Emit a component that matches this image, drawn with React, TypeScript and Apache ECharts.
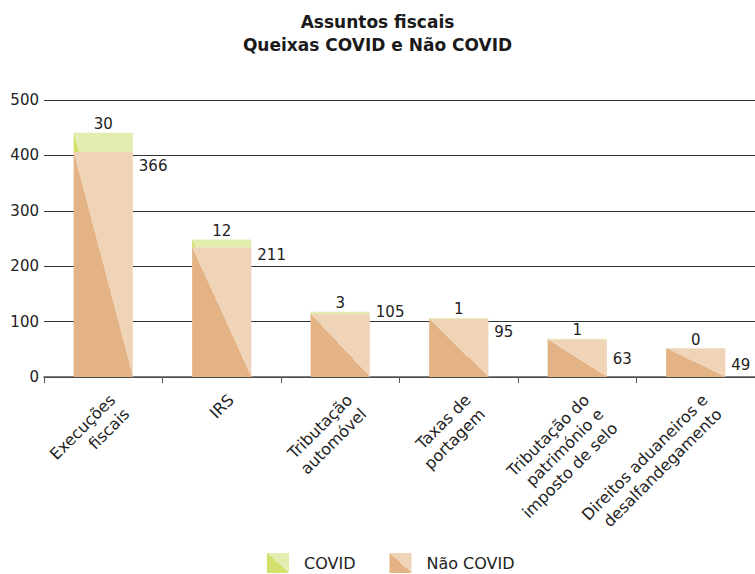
import React, { useEffect, useRef } from "react";
import * as echarts from "echarts";

const categories = [
  "Execuções\nfiscais",
  "IRS",
  "Tributação\nautomóvel",
  "Taxas de\nportagem",
  "Tributação do\npatrimónio e\nimposto de selo",
  "Direitos aduaneiros e\ndesalfandegamento",
];
// bar heights as drawn in the reference
const nonCovidBar = [406, 234, 114, 105, 68, 52];
const covidBar = [35, 14, 3.6, 1.5, 1.2, 0];
// numbers printed on the bars
const nonCovidLabels = [366, 211, 105, 95, 63, 49];
const covidLabels = [30, 12, 3, 1, 1, 0];
const yTicks = [0, 100, 200, 300, 400, 500];

// label placement (style only)
const nonCovidLabelDy = [6, 0, -9, 6, 12, 9];

const FONT = "'DejaVu Sans', sans-serif";
const NC_DARK = "#E3B386";
const NC_LIGHT = "#EFD4B8";
const C_DARK = "#D3E16C";
const C_LIGHT = "#E4EDB0";

function twoTone(dark: string, light: string, k: number) {
  return new echarts.graphic.LinearGradient(-1, k, 1, -k, [
    { offset: 0, color: dark },
    { offset: 0.5, color: dark },
    { offset: 0.5, color: light },
    { offset: 1, color: light },
  ]);
}

export default function App() {
  const ref = useRef<HTMLDivElement>(null);
  useEffect(() => {
    document.body.style.margin = "0";
    const chart = echarts.init(ref.current!, null, { renderer: "svg" });
    chart.setOption({
      animation: false,
      textStyle: { fontFamily: FONT },
      title: {
        text: "Assuntos fiscais\nQueixas COVID e Não COVID",
        left: "center",
        top: 5,
        padding: [5, 0, 5, 8],
        textStyle: {
          fontFamily: FONT,
          fontSize: 17,
          fontWeight: "bold",
          lineHeight: 23,
          color: "#1a1a1a",
        },
      },
      legend: {
        data: ["COVID", "Não COVID"],
        top: 548,
        left: 262,
        icon: "rect",
        itemWidth: 22,
        itemHeight: 20,
        itemGap: 34,
        textStyle: { fontFamily: FONT, fontSize: 16, color: "#222", padding: [0, 0, 0, 10] },
      },
      grid: { left: 44, right: 0, top: 100, bottom: 197 },
      xAxis: {
        type: "category",
        data: categories,
        axisLine: { lineStyle: { color: "#555", width: 1.5 } },
        axisTick: { show: true, length: 6, lineStyle: { color: "#555" } },
        axisLabel: {
          rotate: 45,
          interval: 0,
          fontFamily: FONT,
          fontSize: 16,
          color: "#222",
          lineHeight: 20,
          verticalAlign: "top",
          padding: [3, 0, 0, 0],
          margin: 11,
        },
      },
      yAxis: {
        type: "value",
        min: yTicks[0],
        max: yTicks[yTicks.length - 1],
        interval: 100,
        axisLine: { show: false },
        axisTick: { show: false },
        axisLabel: { fontFamily: FONT, fontSize: 15, color: "#222", margin: 5 },
        splitLine: { lineStyle: { color: "#333", width: 1 } },
      },
      series: [
        {
          name: "Não COVID",
          type: "bar",
          stack: "total",
          barWidth: "50%",
          itemStyle: { color: twoTone(NC_DARK, NC_LIGHT, 1) },
          data: nonCovidBar.map((v, i) => ({
            value: v,
            label: { position: ["110%", nonCovidLabelDy[i]] },
          })),
          label: {
            show: true,
            position: ["110%", 6],
            fontFamily: FONT,
            fontSize: 15,
            color: "#222",
            formatter: (p: any) => String(nonCovidLabels[p.dataIndex]),
          },
        },
        {
          name: "COVID",
          type: "bar",
          stack: "total",
          barWidth: "50%",
          itemStyle: { color: twoTone(C_DARK, C_LIGHT, 1) },
          data: covidBar.map((v, i) => ({
            value: v,
            itemStyle: {
              color: twoTone(C_DARK, C_LIGHT, nonCovidBar[i] ? v / nonCovidBar[i] : 0),
            },
          })),
          label: {
            show: true,
            position: "top",
            distance: 1,
            fontFamily: FONT,
            fontSize: 15,
            color: "#222",
            formatter: (p: any) => String(covidLabels[p.dataIndex]),
          },
        },
      ],
    });
    return () => chart.dispose();
  }, []);
  return <div ref={ref} style={{ width: 755, height: 574 }} />;
}
